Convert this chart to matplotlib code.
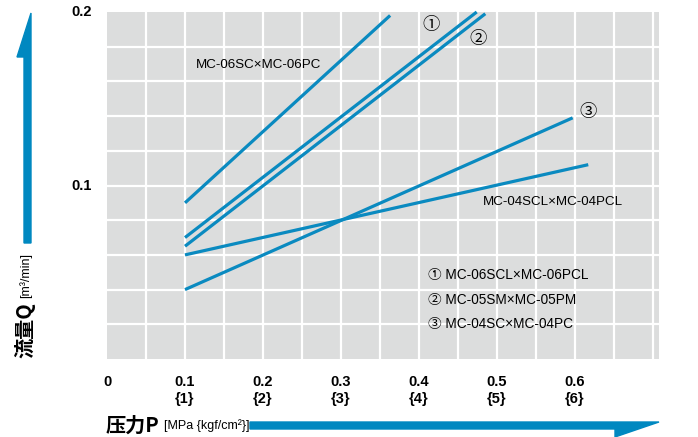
import matplotlib
matplotlib.use("Agg")
import matplotlib.pyplot as plt
from matplotlib.patches import Polygon
import matplotlib.font_manager as fm

names = {f.name for f in fm.fontManager.ttflist}
narrow = 'Liberation Sans Narrow' if 'Liberation Sans Narrow' in names else 'Liberation Sans'
plt.rcParams['font.family'] = [narrow, 'Noto Sans CJK JP', 'DejaVu Sans']

# data: pressure [MPa] vs flow [m3/min]
p_06sc = [0.10, 0.363]
q_06sc = [0.090, 0.198]
p_1 = [0.10, 0.474]
q_1 = [0.070, 0.200]
p_2 = [0.10, 0.485]
q_2 = [0.065, 0.199]
p_3 = [0.10, 0.597]
q_3 = [0.040, 0.139]
p_04scl = [0.10, 0.617]
q_04scl = [0.060, 0.112]

xticks = [0, 0.1, 0.2, 0.3, 0.4, 0.5, 0.6]
xtick_kgf = ['', '{1}', '{2}', '{3}', '{4}', '{5}', '{6}']
yticks = [0.1, 0.2]

blue = '#0a8ac0'
W, H = 698, 437

fig = plt.figure(figsize=(W / 100, H / 100), dpi=100)
ax = fig.add_axes([107 / W, (H - 359) / H, (659 - 107) / W, (359 - 12) / H])
ax.set_facecolor('#dcdddd')
ax.set_xlim(0, 0.7077)
ax.set_ylim(0, 0.2)
for s in ax.spines.values():
    s.set_visible(False)

for i in range(1, 15):
    ax.axvline(i * 0.05, color='white', lw=1.6, zorder=1)
for i in range(1, 10):
    ax.axhline(i * 0.02, color='white', lw=1.6, zorder=1)

for p, q in [(p_06sc, q_06sc), (p_1, q_1), (p_2, q_2), (p_3, q_3), (p_04scl, q_04scl)]:
    ax.plot(p, q, color=blue, lw=2.3, solid_capstyle='butt', zorder=3, clip_on=False)

ax.set_xticks([])
ax.set_yticks([])
xt = ax.get_xaxis_transform()
for x, k in zip(xticks, xtick_kgf):
    lab = ('%g' % x) if x else '0'
    ax.text(x, -0.065, lab, transform=xt, ha='center', va='center', fontsize=10.5, fontweight='bold')
    if k:
        ax.text(x, -0.115, k, transform=xt, ha='center', va='center', fontsize=10.5, fontweight='bold')
for y in yticks:
    ax.text(-0.020, y, '%g' % y, ha='right', va='center', fontsize=10.5, fontweight='bold')

ax.text(0.114, 0.1695, 'MC-06SC×MC-06PC', fontsize=9.6, va='center', ha='left')
ax.text(0.482, 0.0905, 'MC-04SCL×MC-04PCL', fontsize=9.6, va='center', ha='left')
ax.text(0.416, 0.1925, '①', fontsize=12.5, va='center', ha='center')
ax.text(0.476, 0.1845, '②', fontsize=12.5, va='center', ha='center')
ax.text(0.617, 0.1425, '③', fontsize=12.5, va='center', ha='center')

legend_rows = ['① MC-06SCL×MC-06PCL', '② MC-05SM×MC-05PM', '③ MC-04SC×MC-04PC']
for i, t in enumerate(legend_rows):
    ax.text(0.412, 0.0485 - i * 0.0143, t, fontsize=9.8, va='center', ha='left')


def px(x, y):
    return (x / W, 1 - y / H)


yarrow = [px(24, 243), px(31, 243), px(31, 13), px(17, 57), px(24, 57)]
fig.patches.append(Polygon(yarrow, closed=True, color='#0088c0', transform=fig.transFigure))
xarrow = [px(250, 422), px(659, 422), px(615, 437), px(615, 429), px(250, 429)]
fig.patches.append(Polygon(xarrow, closed=True, color='#0088c0', transform=fig.transFigure))

fig.text(25 / W, 1 - 358 / H, '流量Q', rotation=90, ha='center', va='bottom', fontsize=14.5,
         fontweight='bold', family=['Noto Sans CJK JP', 'DejaVu Sans'])
fig.text(26 / W, 1 - 298 / H, '[m³/min]', rotation=90, ha='center', va='bottom', fontsize=9)
fig.text(106 / W, 1 - 425 / H, '压力P', ha='left', va='center', fontsize=14.5,
         fontweight='bold', family=['Noto Sans CJK SC', 'DejaVu Sans'])
fig.text(164 / W, 1 - 426 / H, '[MPa {kgf/cm²}]', ha='left', va='center', fontsize=9)

fig.savefig('out.png', dpi=100)
